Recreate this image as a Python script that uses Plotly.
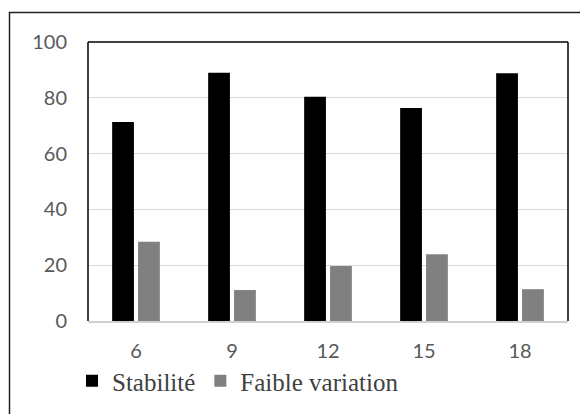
import plotly.graph_objects as go

categories = ["6", "9", "12", "15", "18"]
stabilite = [71.3, 89.0, 80.4, 76.3, 88.8]
faible_variation = [28.4, 11.1, 19.7, 23.9, 11.4]
y_ticks = [0, 20, 40, 60, 80, 100]

# page body has an 8px margin; positions below are in figure pixels
W, H = 588, 414
L, R, T, B = 80, 28, 34, 101
pw, ph = W - L - R, H - T - B

def px_x(px):
    return (px - L) / pw

def px_y(py):
    return (H - B - py) / ph

fig = go.Figure()
fig.add_trace(go.Bar(x=categories, y=stabilite, name="Stabilité",
                     marker=dict(color="#000000", line=dict(width=0))))
fig.add_trace(go.Bar(x=categories, y=faible_variation, name="Faible variation",
                     marker=dict(color="#808080", line=dict(width=0))))

fig.update_layout(
    width=W, height=H,
    margin=dict(l=L, r=R, t=T, b=B, pad=0, autoexpand=False),
    paper_bgcolor="white", plot_bgcolor="white",
    barmode="group", bargap=0.46, bargroupgap=0.16,
    showlegend=True,
    legend=dict(orientation="h", x=px_x(64), xanchor="left",
                y=px_y(350), yanchor="top",
                font=dict(family="Liberation Serif, Times New Roman, serif",
                          size=25, color="#404040"),
                bgcolor="rgba(0,0,0,0)", itemwidth=30, tracegroupgap=0),
    xaxis=dict(type="category", showgrid=False, showline=True,
               linecolor="#d0d0d0", linewidth=2, ticks="",
               ticklabelstandoff=11, automargin=False,
               tickfont=dict(family="Lato", size=20, color="#595959")),
    yaxis=dict(range=[0, 100], tickvals=y_ticks, showgrid=True,
               gridcolor="#d9d9d9", gridwidth=1.3, zeroline=False,
               showline=False, ticks="", ticklabelstandoff=20, automargin=False,
               tickfont=dict(family="Lato", size=20, color="#595959")),
    shapes=[
        dict(type="line", xref="paper", yref="paper", x0=0, x1=1, y0=1, y1=1,
             line=dict(color="#000000", width=1.5)),
        dict(type="line", xref="paper", yref="paper", x0=0, x1=0, y0=0, y1=1,
             line=dict(color="#000000", width=1.5)),
        dict(type="line", xref="paper", yref="paper", x0=1, x1=1, y0=0, y1=1,
             line=dict(color="#000000", width=1.5)),
        dict(type="rect", xref="paper", yref="paper",
             x0=px_x(1.5), x1=px_x(600), y0=px_y(4.5), y1=px_y(430),
             line=dict(color="#222222", width=1.5), fillcolor="rgba(0,0,0,0)"),
    ],
)

fig.write_html("out.html")
